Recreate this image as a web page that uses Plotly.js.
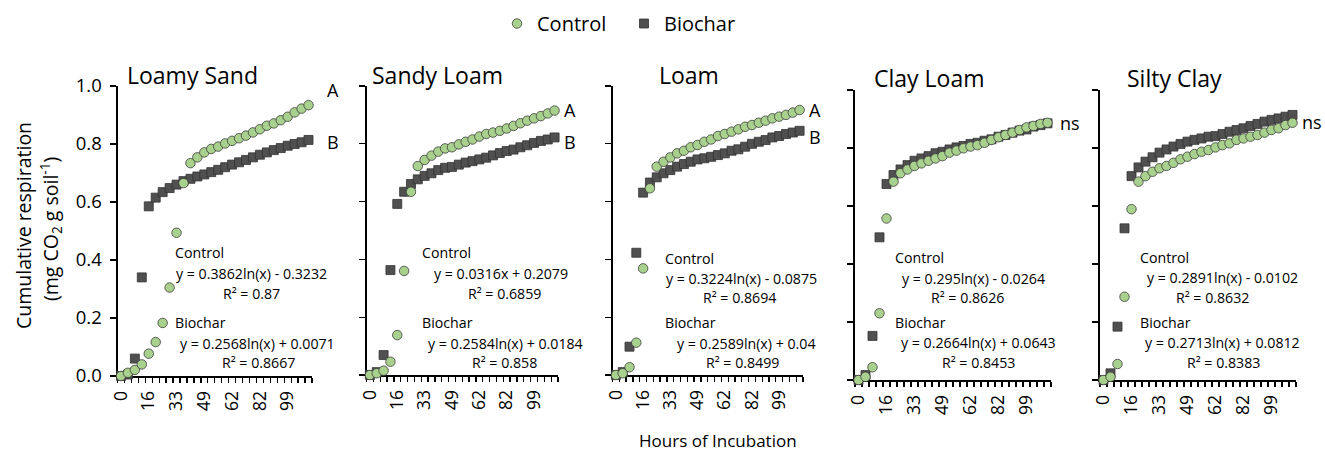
<!DOCTYPE html>
<html>
<head>
<meta charset="utf-8">
<script src="https://cdn.plot.ly/plotly-3.0.1.min.js"></script>
<style>html,body{margin:0;padding:0;background:#fff;}#chart{width:1325px;height:453px;}</style>
</head>
<body>
<div id="chart"></div>
<script>
// ---- data ----
const hours = [0,4,8,12,16,20,25,29,33,37,41,45,49,52,55,59,62,67,72,77,82,86,90,95,99,103,107,111];
const shownHours = [0,16,33,49,62,82,99];
const panelNames = ['Loamy Sand','Sandy Loam','Loam','Clay Loam','Silty Clay'];

const controlLoamySand = [0,0.011,0.021,0.04,0.077,0.117,0.183,0.305,0.494,0.665,0.734,0.754,0.771,0.783,0.791,0.802,0.811,0.82,0.829,0.84,0.851,0.863,0.871,0.882,0.894,0.909,0.922,0.934];
const biocharLoamySand = [0,0.005,0.06,0.34,0.585,0.615,0.634,0.648,0.66,0.672,0.68,0.688,0.695,0.703,0.711,0.72,0.729,0.737,0.745,0.754,0.763,0.771,0.779,0.786,0.794,0.8,0.806,0.814];
const controlSandyLoam = [0,0.006,0.015,0.046,0.138,0.36,0.634,0.723,0.744,0.759,0.773,0.784,0.788,0.798,0.807,0.815,0.825,0.834,0.839,0.845,0.853,0.862,0.871,0.88,0.888,0.896,0.905,0.915];
const biocharSandyLoam = [0,0.01,0.069,0.363,0.592,0.634,0.661,0.677,0.689,0.698,0.709,0.717,0.72,0.728,0.735,0.74,0.746,0.752,0.76,0.768,0.775,0.78,0.788,0.795,0.803,0.81,0.815,0.822];
const controlLoam = [0,0.006,0.027,0.112,0.369,0.646,0.721,0.738,0.753,0.767,0.776,0.788,0.796,0.807,0.815,0.827,0.834,0.842,0.85,0.859,0.865,0.873,0.88,0.888,0.894,0.9,0.908,0.917];
const biocharLoam = [0,0.01,0.098,0.423,0.631,0.666,0.684,0.698,0.709,0.721,0.73,0.738,0.746,0.75,0.755,0.761,0.767,0.776,0.781,0.79,0.8,0.807,0.813,0.822,0.827,0.834,0.839,0.845];
const controlClayLoam = [0,0.011,0.044,0.23,0.557,0.684,0.713,0.726,0.738,0.747,0.756,0.764,0.772,0.784,0.791,0.799,0.805,0.81,0.818,0.828,0.837,0.845,0.853,0.862,0.871,0.876,0.883,0.887];
const biocharClayLoam = [0,0.017,0.152,0.492,0.676,0.707,0.726,0.741,0.756,0.764,0.772,0.782,0.787,0.795,0.802,0.807,0.814,0.818,0.825,0.83,0.839,0.845,0.853,0.86,0.864,0.874,0.879,0.885];
const controlSiltyClay = [0,0.011,0.055,0.287,0.589,0.684,0.703,0.718,0.73,0.738,0.749,0.761,0.77,0.779,0.787,0.793,0.802,0.81,0.816,0.828,0.833,0.839,0.845,0.853,0.862,0.868,0.879,0.887];
const biocharSiltyClay = [0,0.023,0.184,0.523,0.703,0.733,0.753,0.768,0.784,0.795,0.805,0.814,0.822,0.828,0.833,0.839,0.841,0.848,0.856,0.862,0.868,0.876,0.883,0.891,0.897,0.902,0.908,0.914];

const controlSeries = [controlLoamySand, controlSandyLoam, controlLoam, controlClayLoam, controlSiltyClay];
const biocharSeries = [biocharLoamySand, biocharSandyLoam, biocharLoam, biocharClayLoam, biocharSiltyClay];

const yTickVals = [0,0.2,0.4,0.6,0.8,1.0];
const yTickText = ['0.0','0.2','0.4','0.6','0.8','1.0'];
const sigLetters = [['A','B'],['A','B'],['A','B'],['ns'],['ns']];
const controlEq = ['y = 0.3862ln(x) - 0.3232','y = 0.0316x + 0.2079','y = 0.3224ln(x) - 0.0875','y = 0.295ln(x) - 0.0264','y = 0.2891ln(x) - 0.0102'];
const controlR2 = ['0.87','0.6859','0.8694','0.8626','0.8632'];
const biocharEq = ['y = 0.2568ln(x) + 0.0071','y = 0.2584ln(x) + 0.0184','y = 0.2589ln(x) + 0.04','y = 0.2664ln(x) + 0.0643','y = 0.2713ln(x) + 0.0812'];
const biocharR2 = ['0.8667','0.858','0.8499','0.8453','0.8383'];

// ---- layout geometry (pixels) ----
const W = 1325, H = 453;
const px = v => v / W, py = v => 1 - v / H;
const boxes = [
  {l:117.5, r:312, t:86, b:376},
  {l:366.5, r:558, t:86, b:375},
  {l:612.5, r:803, t:86, b:375},
  {l:855, r:1051, t:90, b:380},
  {l:1100, r:1296, t:90, b:380}
];
const titlePos = [[192,75],[437,75],[688.5,75],[929.5,78],[1174.5,78]];
const letterPos = [[[333,90],[333,142]],[[570,110],[570,142]],[[815,110],[815,137]],[[1070,123]],[[1312,122]]];
const eqPos = [
  [[173,253],[251.5,273],[251.5,293],[173,322],[257,343],[258,362]],
  [[420,253],[501,273],[504,293],[420,322],[505,343],[504,362]],
  [[663,258],[741.5,278],[739.5,297],[663,322],[746.5,343],[742.5,362]],
  [[893,257],[973.5,278],[967.5,297],[893,322],[978,342],[978,362]],
  [[1138,257],[1222.5,277],[1212.5,297],[1138,322],[1222.5,342],[1223,362]]
];

const FONT = 'Open Sans, Liberation Sans, sans-serif';
const xIndex = hours.map((_, i) => i);
const labelIdx = hours.map((h, i) => shownHours.includes(h) ? i : -1).filter(i => i >= 0);
const labelText = labelIdx.map(i => String(hours[i]));

const traces = [];
const layout = {
  width: W, height: H, autosize: false,
  margin: {l:0, r:0, t:0, b:0},
  paper_bgcolor: '#fff', plot_bgcolor: 'rgba(0,0,0,0)',
  font: {family: FONT, color: '#000'},
  showlegend: true,
  legend: {orientation: 'h', x: px(497), xanchor: 'left', y: py(4), yanchor: 'top', entrywidth: 82,
           font: {family: FONT, size: 20, color: '#000'}, itemclick: false},
  annotations: [],
  hovermode: false
};

panelNames.forEach((name, i) => {
  const n = i + 1;
  const xa = 'x' + (n === 1 ? '' : n), ya = 'y' + (n === 1 ? '' : n);
  const xk = 'xaxis' + (n === 1 ? '' : n), yk = 'yaxis' + (n === 1 ? '' : n);
  const b = boxes[i];
  traces.push({
    type: 'scatter', mode: 'markers', name: 'Biochar', legendgroup: 'b', legendrank: 2,
    showlegend: i === 0, x: xIndex, y: biocharSeries[i], xaxis: xa, yaxis: ya, cliponaxis: false,
    marker: {symbol: 'square', size: 9, color: '#505050', line: {color: '#333333', width: 0.8}}
  });
  traces.push({
    type: 'scatter', mode: 'markers', name: 'Control', legendgroup: 'c', legendrank: 1,
    showlegend: i === 0, x: xIndex, y: controlSeries[i], xaxis: xa, yaxis: ya, cliponaxis: false,
    marker: {symbol: 'circle', size: 9.5, color: '#a9d18e', line: {color: '#3c3c3c', width: 0.8}}
  });
  layout[xk] = {
    domain: [px(b.l), px(b.r)], anchor: ya, type: 'linear',
    range: [-0.5, hours.length - 0.5], fixedrange: true,
    tickmode: 'array', tickvals: labelIdx, ticktext: labelText,
    ticks: '', ticklabelstandoff: 6,
    minor: {tickmode: 'linear', tick0: -0.5, dtick: 1, ticks: 'outside', ticklen: 5, tickwidth: 1.3, tickcolor: '#000', showgrid: false},
    tickangle: -90, tickfont: {family: FONT, size: 17.5, color: '#000'},
    showline: true, linecolor: '#000', linewidth: 2, showgrid: false, zeroline: false,
    layer: 'below traces'
  };
  layout[yk] = {
    domain: [py(b.b), py(b.t)], anchor: xa, range: [0, 1], fixedrange: true,
    tickmode: 'array', tickvals: yTickVals, ticktext: yTickText, showticklabels: i === 0,
    ticks: 'outside', ticklen: 6, tickwidth: 1.3, tickcolor: '#000', ticklabelstandoff: 4,
    tickfont: {family: FONT, size: 18.5, color: '#000'},
    showline: true, linecolor: '#000', linewidth: 2, showgrid: false, zeroline: false,
    layer: 'below traces'
  };
  layout.annotations.push({text: name, xref: 'paper', yref: 'paper', x: px(titlePos[i][0]), y: py(titlePos[i][1]),
    xanchor: 'center', yanchor: 'middle', showarrow: false, font: {family: FONT, size: 23, color: '#000'}});
  sigLetters[i].forEach((t, k) => {
    layout.annotations.push({text: t, xref: 'paper', yref: 'paper', x: px(letterPos[i][k][0]), y: py(letterPos[i][k][1]),
      xanchor: 'center', yanchor: 'middle', showarrow: false, font: {family: FONT, size: 18, color: '#000'}});
  });
  const e = eqPos[i];
  const lines = [
    ['Control', e[0], 'left'], [controlEq[i], e[1], 'center'], ['R² = ' + controlR2[i], e[2], 'center'],
    ['Biochar', e[3], 'left'], [biocharEq[i], e[4], 'center'], ['R² = ' + biocharR2[i], e[5], 'center']
  ];
  lines.forEach(([t, p, anc]) => {
    layout.annotations.push({text: t, xref: 'paper', yref: 'paper', x: px(p[0]), y: py(p[1]),
      xanchor: anc, yanchor: 'middle', showarrow: false, font: {family: FONT, size: 14.2, color: '#000'}});
  });
});

layout.annotations.push({text: 'Cumulative respiration', xref: 'paper', yref: 'paper', x: px(23), y: py(226),
  xanchor: 'center', yanchor: 'middle', textangle: -90, showarrow: false, font: {family: FONT, size: 19.5, color: '#000'}});
layout.annotations.push({text: '(mg CO<sub>2</sub> g soil<sup>-1</sup>)', xref: 'paper', yref: 'paper', x: px(50), y: py(229),
  xanchor: 'center', yanchor: 'middle', textangle: -90, showarrow: false, font: {family: FONT, size: 19.5, color: '#000'}});
layout.annotations.push({text: 'Hours of Incubation', xref: 'paper', yref: 'paper', x: px(718), y: py(440),
  xanchor: 'center', yanchor: 'middle', showarrow: false, font: {family: FONT, size: 17, color: '#000'}});

Plotly.newPlot('chart', traces, layout, {displayModeBar: false, staticPlot: true});
</script>
</body>
</html>
